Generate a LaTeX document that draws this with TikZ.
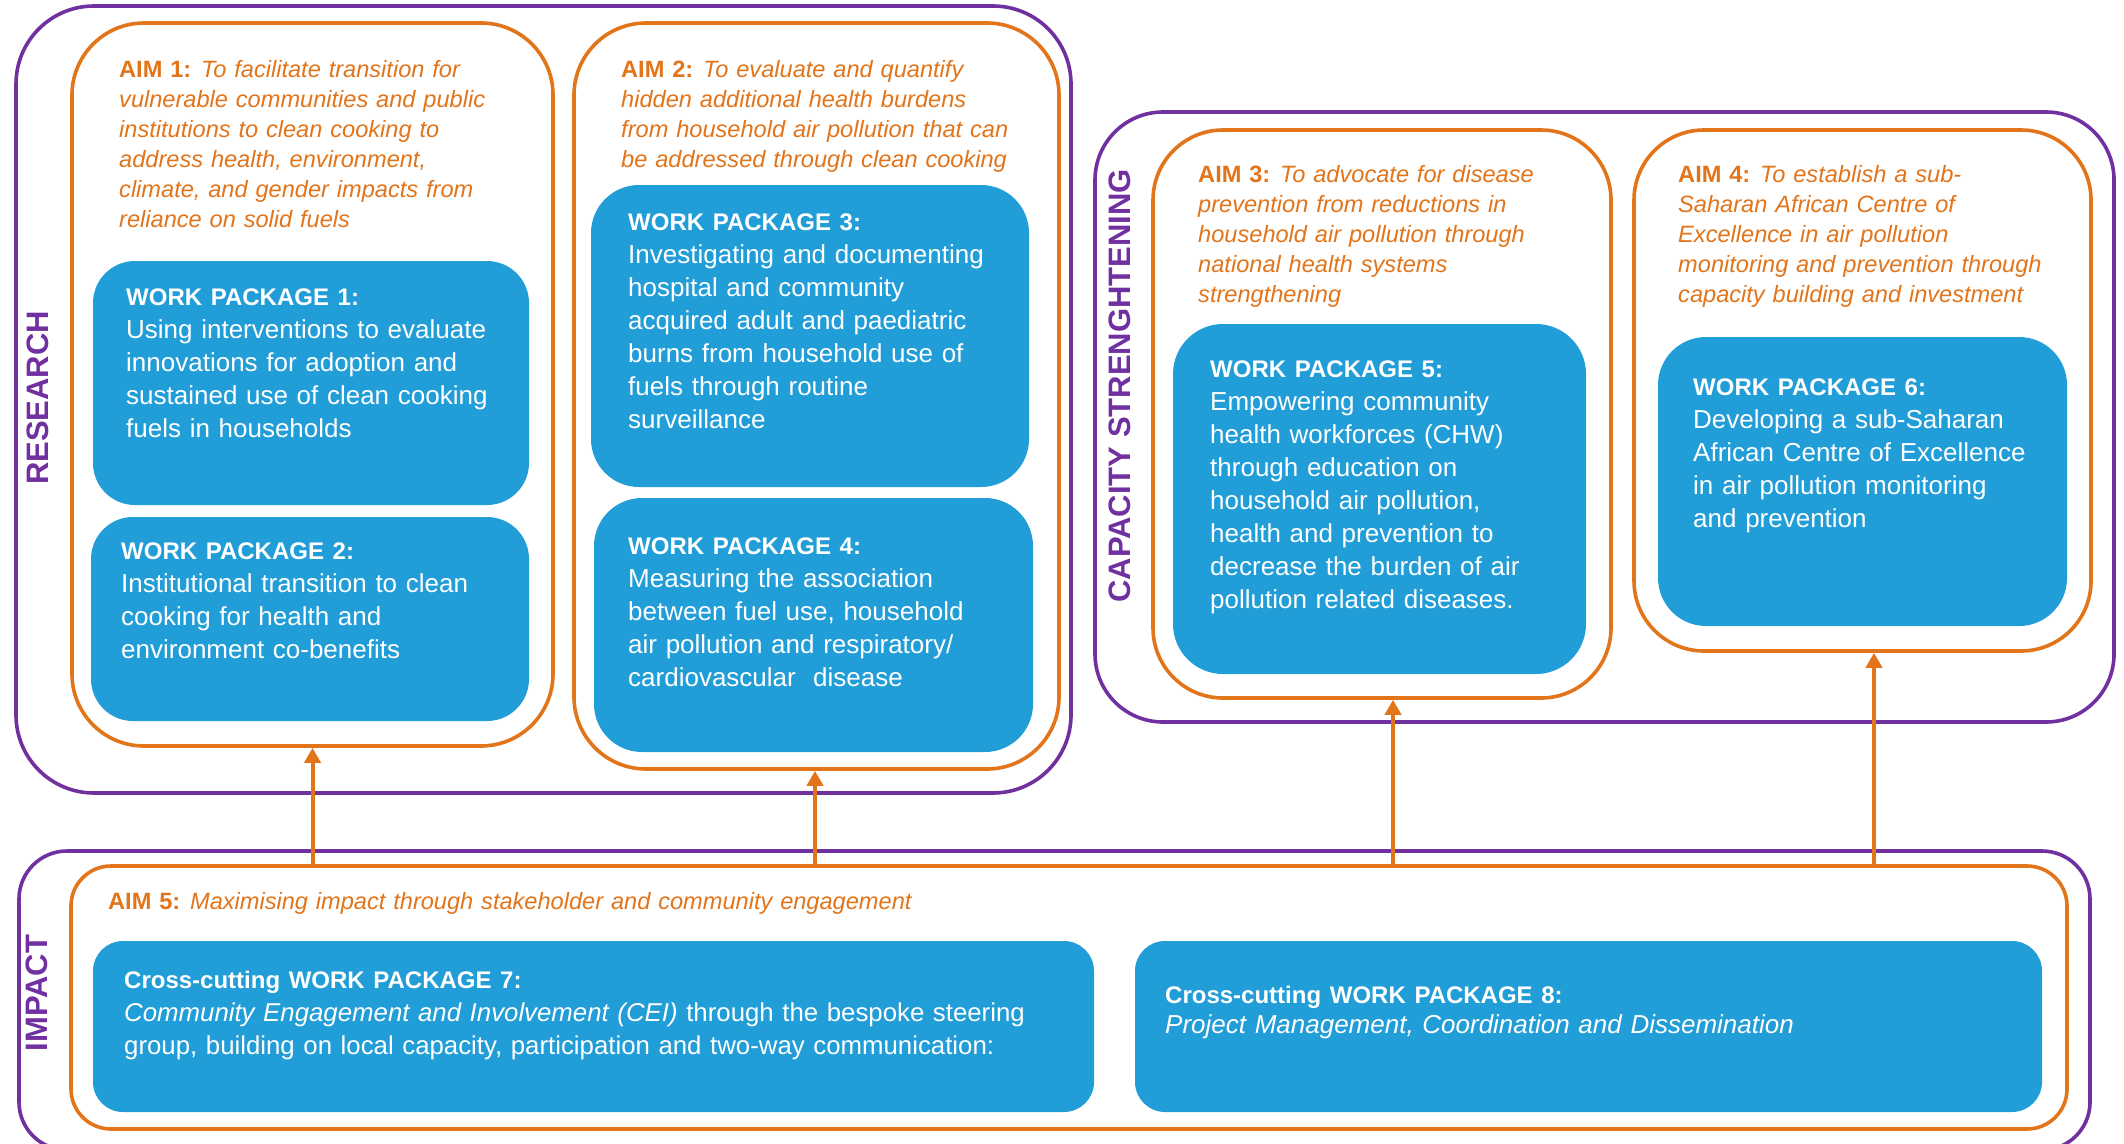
\documentclass[tikz,border=0pt]{standalone}
\usepackage{fontspec}
\setmainfont{Liberation Sans}
\usetikzlibrary{arrows.meta,fit}
\definecolor{pur}{RGB}{112,48,160}
\definecolor{org}{RGB}{226,116,26}
\definecolor{blu}{RGB}{33,157,216}
\newcommand\aimlab[1]{{\upshape\bfseries #1}\hspace{-2pt}}
\newcommand\wptitle[1]{{\fontsize{24}{33}\selectfont\bfseries #1}}
\begin{document}
\begin{tikzpicture}[x=1pt,y=-1pt,
  grp/.style={draw=pur, line width=3.6pt, inner sep=0pt, rectangle},
  aimbox/.style={draw=org, line width=3.6pt, inner sep=0pt, rectangle},
  wpbox/.style={fill=blu, draw=none, inner sep=0pt, rectangle, rounded corners=42pt},
  aimtxt/.style={anchor=base west, inner sep=0pt, text=org, align=left, text width=470pt,
    font=\fontsize{23.6}{30}\selectfont\itshape},
  wptxt/.style={anchor=base west, inner sep=0pt, text=white, align=left, text width=470pt,
    font=\fontsize{26}{33}\selectfont},
  vlab/.style={rotate=90, inner sep=0pt, text=pur, font=\fontsize{31}{31}\selectfont\bfseries},
  arr/.style={draw=org, line width=4pt, -{Triangle[width=16pt,length=15pt]}}]
\clip[use as bounding box] (0,0) rectangle (2124,1143);
% groups
\node[grp, rounded corners=78pt, fit={(16,6)(1071,793)}] (research) {};
\node[grp, rounded corners=68pt, fit={(1095,112)(2114,722)}] (capacity) {};
\node[grp, rounded corners=48pt, fit={(19,851)(2090,1150)}] (impact) {};
% aims
\node[aimbox, rounded corners=72pt, fit={(72,23)(553,746)}] (aim1) {};
\node[aimbox, rounded corners=72pt, fit={(574,23)(1059,769)}] (aim2) {};
\node[aimbox, rounded corners=70pt, fit={(1153,130)(1611,698)}] (aim3) {};
\node[aimbox, rounded corners=70pt, fit={(1634,130)(2091,651)}] (aim4) {};
\node[aimbox, rounded corners=40pt, fit={(71,866)(2067,1129)}] (aim5) {};
% work packages
\node[wpbox, fit={(93,261)(529,505)}] (wp1) {};
\node[wpbox, fit={(91,517)(529,721)}] (wp2) {};
\node[wpbox, rounded corners=48pt, fit={(591,185)(1029,487)}] (wp3) {};
\node[wpbox, rounded corners=48pt, fit={(594,498)(1033,752)}] (wp4) {};
\node[wpbox, rounded corners=50pt, fit={(1173,324)(1586,674)}] (wp5) {};
\node[wpbox, rounded corners=48pt, fit={(1658,337)(2067,626)}] (wp6) {};
\node[wpbox, rounded corners=30pt, fit={(93,941)(1094,1112)}] (wp7) {};
\node[wpbox, rounded corners=30pt, fit={(1135,941)(2042,1112)}] (wp8) {};
% arrows
\coordinate (a1b) at (aim1.south);
\coordinate (a2b) at ([xshift=-1.5pt]aim2.south);
\coordinate (a3b) at ([xshift=11pt]aim3.south);
\coordinate (a4b) at ([xshift=11.5pt]aim4.south);
\draw[arr] (a1b |- aim5.north) -- (a1b);
\draw[arr] (a2b |- aim5.north) -- (a2b);
\draw[arr] (a3b |- aim5.north) -- (a3b);
\draw[arr] (a4b |- aim5.north) -- (a4b);
% vertical labels
\node[vlab] (lres) at (38,398) {RESEARCH};
\node[vlab] (lcap) at (1120,386) {CAPACITY STRENGHTENING};
\node[vlab] (limp) at (37,993) {IMPACT};
% aim texts
\node[aimtxt] (a1t) at (119,77) {\aimlab{AIM 1:} To facilitate transition for\\vulnerable communities and public\\institutions to clean cooking to\\address health, environment,\\climate, and gender impacts from\\reliance on solid fuels};
\node[aimtxt] (a2t) at (621,77) {\aimlab{AIM 2:} To evaluate and quantify\\hidden additional health burdens\\from household air pollution that can\\be addressed through clean cooking};
\node[aimtxt] (a3t) at (1198,182) {\aimlab{AIM 3:} To advocate for disease\\prevention from reductions in\\household air pollution through\\national health systems\\strengthening};
\node[aimtxt] (a4t) at (1678,182) {\aimlab{AIM 4:} To establish a sub-\\Saharan African Centre of\\Excellence in air pollution\\monitoring and prevention through\\capacity building and investment};
\node[aimtxt, text width=1000pt] (a5t) at (108,909) {\aimlab{AIM 5:} Maximising impact through stakeholder and community engagement};
% wp texts
\node[wptxt] (w1t) at (126,305) {\wptitle{WORK PACKAGE 1:}\\Using interventions to evaluate\\innovations for adoption and\\sustained use of clean cooking\\fuels in households};
\node[wptxt] (w2t) at (121,559) {\wptitle{WORK PACKAGE 2:}\\Institutional transition to clean\\cooking for health and\\environment co-benefits};
\node[wptxt] (w3t) at (628,230) {\wptitle{WORK PACKAGE 3:}\\Investigating and documenting\\hospital and community\\acquired adult and paediatric\\burns from household use of\\fuels through routine\\surveillance};
\node[wptxt] (w4t) at (628,554) {\wptitle{WORK PACKAGE 4:}\\Measuring the association\\between fuel use, household\\air pollution and respiratory/\\cardiovascular\ \ disease};
\node[wptxt] (w5t) at (1210,377) {\wptitle{WORK PACKAGE 5:}\\Empowering community\\health workforces (CHW)\\through education on\\household air pollution,\\health and prevention to\\decrease the burden of air\\pollution related diseases.};
\node[wptxt] (w6t) at (1693,395) {\wptitle{WORK PACKAGE 6:}\\Developing a sub-Saharan\\African Centre of Excellence\\in air pollution monitoring\\and prevention};
\node[wptxt, text width=960pt, font=\fontsize{25.8}{33}\selectfont] (w7t) at (124,988) {\wptitle{Cross-cutting WORK PACKAGE 7:}\\\textit{Community Engagement and Involvement (CEI)} through the bespoke steering\\group, building on local capacity, participation and two-way communication:};
\node[wptxt, text width=880pt] (w8t) at (1165,1003) {\wptitle{Cross-cutting WORK PACKAGE 8:}\\[-3pt]\textit{Project Management, Coordination and Dissemination}};
\end{tikzpicture}
\end{document}
